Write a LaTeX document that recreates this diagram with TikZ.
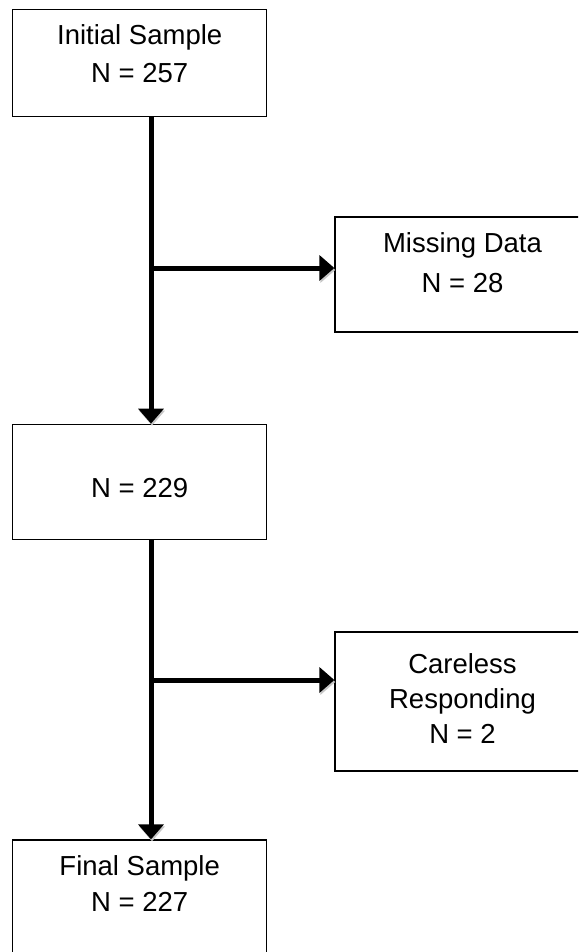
\documentclass[tikz,border=0pt]{standalone}
\usepackage{fontspec}
\setmainfont{Liberation Sans}
\usetikzlibrary{arrows.meta}
\begin{document}
\begin{tikzpicture}[x=1pt,y=-1pt,
  box/.style={draw=black, line width=1.3pt, fill=white, rectangle, inner sep=0pt},
  txt/.style={anchor=base, inner sep=0pt, font=\fontsize{27.5}{32}\selectfont},
  flow/.style={line width=5pt, -{Triangle[length=15pt,width=25pt]},
    preaction={draw=black!22, transform canvas={shift={(1pt,-2pt)}}}}]
\useasboundingbox (0,0) rectangle (578,952);
\clip (0,0) rectangle (578,952);

% main column boxes
\node[box, minimum width=254pt, minimum height=107.4pt] (init) at (139.7,63) {};
\node[box, minimum width=254pt, minimum height=115pt] (mid) at (139.7,481.8) {};
\node[box, minimum width=254pt, minimum height=118pt] (final) at (139.7,899) {};

% side boxes (run past the right edge)
\node[box, minimum width=255pt, minimum height=115pt] (missing) at (462.5,274.5) {};
\node[box, minimum width=255pt, minimum height=139pt] (careless) at (462.5,701.5) {};

% labels
\node[txt] (t1a) at (139.7,45) {Initial Sample};
\node[txt] (t1b) at (139.7,83) {N = 257};
\node[txt] (t2a) at (462.5,252) {Missing Data};
\node[txt] (t2b) at (462.5,292) {N = 28};
\node[txt] (t3) at (139.7,497) {N = 229};
\node[txt] (t4a) at (462.5,673) {Careless};
\node[txt] (t4b) at (462.5,708) {Responding};
\node[txt] (t4c) at (462.5,743) {N = 2};
\node[txt] (t5a) at (139.7,875) {Final Sample};
\node[txt] (t5b) at (139.7,911) {N = 227};

% trunk position and branch points
\coordinate (trunk) at (151,0);
\coordinate (b1) at (151,268);
\coordinate (b2) at (151,680);

% connectors
\draw[flow] (init.south -| trunk) -- (mid.north -| trunk);
\draw[flow] (mid.south -| trunk) -- (final.north -| trunk);
\draw[flow] (b1) -- (b1 -| missing.west);
\draw[flow] (b2) -- (b2 -| careless.west);
\end{tikzpicture}
\end{document}
